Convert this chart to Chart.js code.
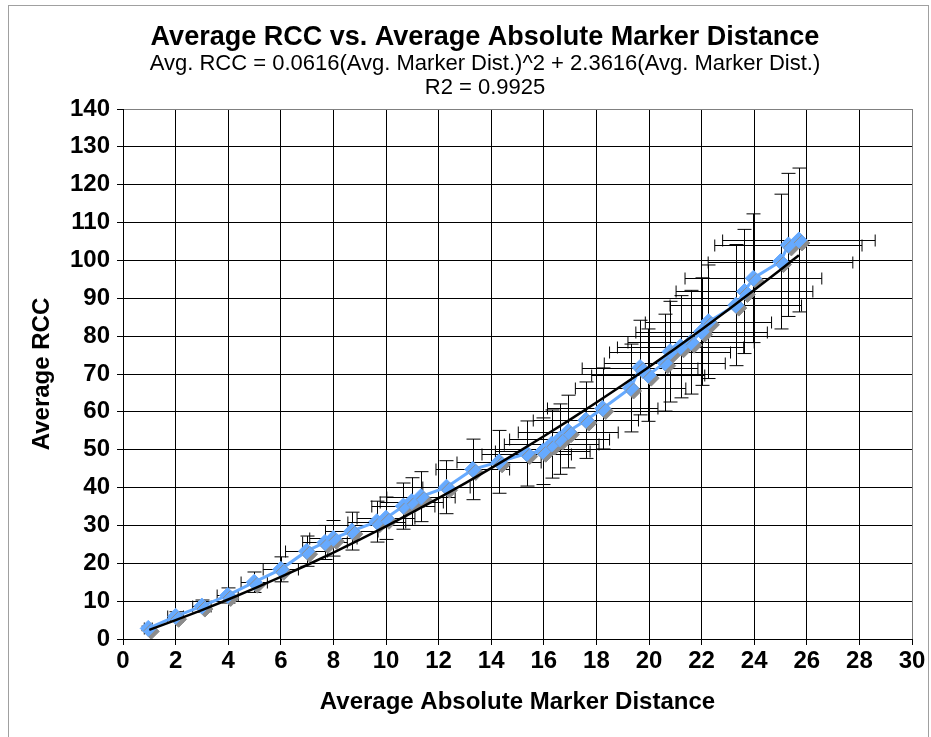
<!DOCTYPE html>
<html>
<head>
<meta charset="utf-8">
<script src="https://cdn.jsdelivr.net/npm/chart.js@4.4.0/dist/chart.umd.min.js"></script>
<style>
body { margin: 0; background: #fff; }
#wrap { position: relative; width: 931px; height: 737px; }
</style>
</head>
<body>
<div id="wrap"><canvas id="rccChart" width="931" height="737"></canvas></div>
<script>
// Data
const markerDist = [0.96, 2.0, 3.0, 3.98, 4.99, 6.0, 6.98, 7.68, 8.0, 8.7, 9.65, 10.0, 10.66, 10.98, 11.33, 12.3, 13.3, 14.3, 15.35, 15.96, 16.3, 16.6, 16.93, 17.6, 18.24, 19.3, 19.66, 19.97, 20.6, 20.8, 21.2, 21.6, 22.0, 22.26, 23.3, 23.63, 23.97, 25.0, 25.3, 25.7];
const avgRcc = [2.8, 6.0, 8.7, 11.5, 15.0, 18.4, 23.2, 25.5, 26.6, 28.5, 31.0, 31.9, 35.1, 36.3, 37.6, 40.1, 44.8, 46.8, 49.0, 49.6, 51.5, 52.8, 54.8, 57.8, 60.9, 66.3, 71.7, 69.7, 73.0, 75.9, 77.2, 78.4, 81.2, 83.8, 88.2, 91.8, 95.3, 99.7, 104.1, 105.4];
const distErr = [0.15, 0.3, 0.35, 0.4, 0.5, 0.67, 0.8, 0.85, 0.9, 1.0, 1.1, 1.1, 1.2, 1.2, 1.3, 0.9, 1.4, 1.6, 1.7, 1.8, 1.8, 1.9, 1.9, 2.0, 2.1, 2.1, 2.2, 2.15, 2.3, 2.3, 2.4, 2.4, 2.5, 2.4, 2.5, 2.6, 2.6, 2.75, 2.8, 2.9];
const rccErr = [0.6, 1.2, 1.6, 2.0, 2.7, 3.3, 4.0, 4.5, 4.7, 5.0, 5.4, 5.6, 6.1, 6.3, 6.6, 7.0, 8.0, 8.3, 8.6, 8.8, 9.0, 9.3, 9.6, 10.1, 10.7, 11.6, 12.5, 12.2, 12.8, 13.3, 13.5, 13.7, 14.2, 15.0, 16.0, 16.4, 17.0, 17.8, 18.9, 19.0];
const trendX = [1, 2, 3, 4, 5, 6, 7, 8, 9, 10, 11, 12, 13, 14, 15, 16, 17, 18, 19, 20, 21, 22, 23, 24, 25, 25.7];
const trendY = [2.42, 4.97, 7.64, 10.43, 13.35, 16.39, 19.55, 22.84, 26.24, 29.78, 33.43, 37.21, 41.11, 45.14, 49.28, 53.56, 57.95, 62.47, 67.11, 71.87, 76.76, 81.77, 86.90, 92.16, 97.54, 101.38];
const xTicks = [0, 2, 4, 6, 8, 10, 12, 14, 16, 18, 20, 22, 24, 26, 28, 30];
const yTicks = [0, 10, 20, 30, 40, 50, 60, 70, 80, 90, 100, 110, 120, 130, 140];
const titleLines = ['Average RCC vs. Average Absolute Marker Distance'];
const subtitleLines = ['Avg. RCC = 0.0616(Avg. Marker Dist.)^2 + 2.3616(Avg. Marker Dist.)', 'R2 = 0.9925'];

const FONT = "'Liberation Sans', Arial, sans-serif";
const BLUE = '#66aaff';

const points = markerDist.map((x, i) => ({ x: x, y: avgRcc[i] }));
const trend = trendX.map((x, i) => ({ x: x, y: trendY[i] }));

// frame, titles, error bars, marker shadow
const extras = {
    id: 'extras',
    beforeDraw(chart) {
        const c = chart.ctx;
        c.save();
        c.fillStyle = '#fff';
        c.fillRect(0, 0, chart.width, chart.height);
        c.strokeStyle = '#a0a0a0';
        c.lineWidth = 1;
        c.strokeRect(8.5, 5.5, 920, 740);
        c.fillStyle = '#000';
        c.textAlign = 'center';
        c.textBaseline = 'middle';
        c.font = "bold 27px " + FONT;
        c.fillText(titleLines[0], 485, 38);
        c.font = "22px " + FONT;
        c.fillText(subtitleLines[0], 485, 64);
        c.fillText(subtitleLines[1], 485, 88);
        c.restore();
    },
    beforeDatasetsDraw(chart) {
        const c = chart.ctx;
        const xs = chart.scales.x, ys = chart.scales.y;
        c.save();
        c.strokeStyle = '#000';
        c.lineWidth = 1;
        c.beginPath();
        markerDist.forEach((x, i) => {
            const px = Math.round(xs.getPixelForValue(x)) + 0.5;
            const py = Math.round(ys.getPixelForValue(avgRcc[i])) + 0.5;
            const x1 = xs.getPixelForValue(x - distErr[i]);
            const x2 = xs.getPixelForValue(x + distErr[i]);
            const y1 = ys.getPixelForValue(avgRcc[i] - rccErr[i]);
            const y2 = ys.getPixelForValue(avgRcc[i] + rccErr[i]);
            c.moveTo(x1, py); c.lineTo(x2, py);
            c.moveTo(x1, py - 6); c.lineTo(x1, py + 6);
            c.moveTo(x2, py - 6); c.lineTo(x2, py + 6);
            c.moveTo(px, y1); c.lineTo(px, y2);
            c.moveTo(px - 7, y1); c.lineTo(px + 7, y1);
            c.moveTo(px - 7, y2); c.lineTo(px + 7, y2);
        });
        c.stroke();
        c.restore();
    },
    beforeDatasetDraw(chart, args) {
        if (args.index !== 1) return;
        const c = chart.ctx;
        c.save();
        c.shadowColor = '#8c8c8c';
        c.shadowOffsetX = 3;
        c.shadowOffsetY = 3;
        c.shadowBlur = 0;
    },
    afterDatasetDraw(chart, args) {
        if (args.index !== 1) return;
        chart.ctx.restore();
    }
};

const ctx = document.getElementById('rccChart').getContext('2d');
const rccChart = new Chart(ctx, {
    type: 'scatter',
    data: {
        datasets: [{
            label: 'Trend',
            data: trend,
            showLine: true,
            borderColor: '#000',
            borderWidth: 2.5,
            pointRadius: 0,
            cubicInterpolationMode: 'monotone',
            order: 0
        }, {
            label: 'Average RCC',
            data: points,
            showLine: false,
            pointStyle: 'rectRot',
            pointRadius: 8,
            backgroundColor: BLUE,
            borderColor: BLUE,
            borderWidth: 1,
            order: 1
        }, {
            label: 'Average RCC line',
            data: points,
            showLine: true,
            borderColor: BLUE,
            borderWidth: 3,
            pointRadius: 0,
            order: 2
        }]
    },
    options: {
        responsive: false,
        animation: false,
        devicePixelRatio: 1,
        layout: { padding: { left: 20, right: 19, top: 109, bottom: 0 } },
        plugins: {
            legend: { display: false },
            tooltip: { enabled: false },
            title: { display: false }
        },
        scales: {
            x: {
                type: 'linear',
                min: 0,
                max: 30,
                afterFit: s => { s.height = 98; },
                afterBuildTicks: s => { s.ticks = xTicks.map(v => ({ value: v })); },
                grid: {
                    color: c => c.tick && c.tick.value === 30 ? '#808080' : '#000',
                    lineWidth: 1,
                    tickLength: 6,
                    tickColor: '#000'
                },
                border: { color: '#000', width: 1 },
                ticks: {
                    color: '#000',
                    padding: 2,
                    maxRotation: 0,
                    font: { family: FONT, size: 24, weight: 'bold' }
                },
                title: {
                    display: true,
                    text: 'Average Absolute Marker Distance',
                    color: '#000',
                    padding: { top: 0, bottom: 20 },
                    font: { family: FONT, size: 24, weight: 'bold' }
                }
            },
            y: {
                type: 'linear',
                min: 0,
                max: 140,
                afterFit: s => { s.width = 103; },
                afterBuildTicks: s => { s.ticks = yTicks.map(v => ({ value: v })); },
                grid: {
                    color: c => c.tick && c.tick.value === 140 ? '#808080' : '#000',
                    lineWidth: 1,
                    tickLength: 6,
                    tickColor: '#000'
                },
                border: { color: '#000', width: 1 },
                ticks: {
                    color: '#000',
                    padding: 7,
                    font: { family: FONT, size: 24, weight: 'bold' }
                },
                title: {
                    display: true,
                    text: 'Average RCC',
                    color: '#000',
                    padding: { top: 8, bottom: 0 },
                    font: { family: FONT, size: 24, weight: 'bold' }
                }
            }
        }
    },
    plugins: [extras]
});
</script>
</body>
</html>
